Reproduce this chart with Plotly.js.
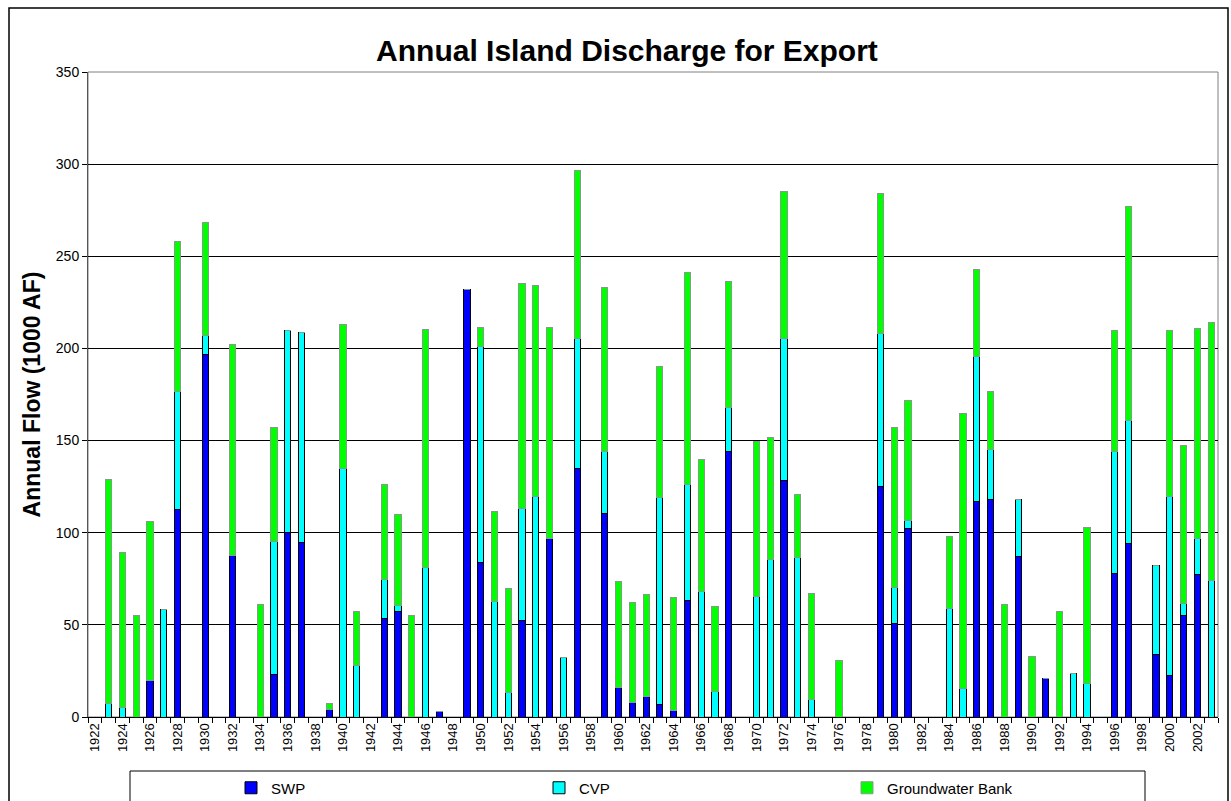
<!DOCTYPE html>
<html>
<head>
<meta charset="utf-8">
<script src="https://cdn.plot.ly/plotly-3.0.1.min.js"></script>
<style>
  html, body { margin: 0; padding: 0; background: #ffffff; }
  #chart { width: 1231px; height: 801px; }
</style>
</head>
<body>
<div id="chart"></div>
<script>
// ---- Data (values in 1000 AF) ----
const years = [];
for (let y = 1922; y <= 2003; y++) years.push(y);

const swp = [
  0, 0, 0, 0, 20, 0, 112.8, 0, 196.8, 0,            // 1922-1931
  87.5, 0, 0, 23.1, 100, 94.9, 0, 3.9, 0, 0,        // 1932-1941
  0, 53.2, 57.4, 0, 0, 3, 0, 232, 83.8, 0,          // 1942-1951
  0, 52.1, 0, 96.8, 0, 134.7, 0, 110.4, 16.2, 8.1,  // 1952-1961
  11.1, 6.7, 3.5, 63, 0, 0, 144, 0, 0, 0,           // 1962-1971
  128.5, 0, 0, 0, 0, 0, 0, 125, 50.5, 102.5,        // 1972-1981
  0, 0, 0, 0, 116.9, 118, 0, 87.3, 0, 21,           // 1982-1991
  0, 0, 0, 0, 78, 93.9, 0, 33.9, 22.7, 54.9,        // 1992-2001
  77.1, 0                                           // 2002-2003
];

const cvp = [
  0, 7.4, 5.4, 0, 0, 58.5, 63.8, 0, 10.4, 0,        // 1922-1931
  0, 0, 0, 72.3, 109.7, 113.9, 0, 0, 135, 28.2,     // 1932-1941
  0, 21.3, 3.2, 0, 81, 0, 0, 0, 117.2, 62.5,        // 1942-1951
  13.2, 61.3, 119.9, 0, 32.4, 70.6, 0, 33.6, 0, 0,  // 1952-1961
  0, 112.5, 0, 63.2, 68.3, 13.9, 23.8, 0, 65.5, 85.6, // 1962-1971
  76.8, 86.6, 9.3, 0, 0, 0, 0, 83.1, 19.6, 4,       // 1972-1981
  0, 0, 59, 15.5, 78.7, 27.4, 0, 30.5, 0, 0,        // 1982-1991
  0, 23.6, 18.3, 0, 66.2, 67.1, 0, 48.1, 97.2, 6.5, // 1992-2001
  19.8, 74                                          // 2002-2003
];

const gwBank = [
  0, 121.6, 83.6, 55, 86.3, 0, 81.5, 0, 61.3, 0,    // 1922-1931
  114.4, 0, 61.3, 61.5, 0, 0, 0, 3.5, 78, 29,       // 1932-1941
  0, 51.7, 49.4, 55.1, 129.2, 0, 0, 0, 10.1, 49.1,  // 1942-1951
  56.7, 121.6, 114.1, 114.3, 0, 91.5, 0, 89.3, 57.4, 53.9, // 1952-1961
  55.6, 71.1, 61.3, 115, 71.7, 46.3, 68.3, 0, 83.8, 66.3,  // 1962-1971
  79.9, 34.4, 57.8, 0, 30.8, 0, 0, 76.2, 86.9, 65.5,       // 1972-1981
  0, 0, 38.7, 149.1, 47.5, 31.5, 61.3, 0, 32.9, 0,         // 1982-1991
  57.4, 0, 84.7, 0, 65.8, 115.8, 0, 0, 90, 85.7,           // 1992-2001
  114, 140                                                 // 2002-2003
];

const tickYears = [];
for (let y = 1922; y <= 2002; y += 2) tickYears.push(y);
const tickLabels = tickYears.map(String);

const seriesNames = ['SWP', 'CVP', 'Groundwater Bank'];
const seriesColors = ['#0000FF', '#00FFFF', '#00FF00'];
const seriesLines = ['#000000', '#000000', '#8a9a8a'];
const seriesValues = [swp, cvp, gwBank];

// ---- Plot ----
const FONT = 'Arial, "Liberation Sans", sans-serif';

const traces = seriesValues.map((vals, i) => ({
  type: 'bar',
  name: seriesNames[i],
  x: years,
  y: vals,
  width: 0.45,
  marker: { color: seriesColors[i], line: { color: seriesLines[i], width: 1 } },
  hoverinfo: 'x+y+name'
}));

// pixel helpers for paper coordinates (plot area: x 88..1218, y 72..717)
const L = 88, T = 72, PW = 1130, PH = 645;
const px = v => (v - L) / PW;
const py = v => 1 - (v - T) / PH;

const layout = {
  width: 1231,
  height: 801,
  margin: { l: L, r: 1231 - L - PW, t: T, b: 801 - T - PH, pad: 0, autoexpand: false },
  paper_bgcolor: '#ffffff',
  plot_bgcolor: '#ffffff',
  font: { family: FONT, color: '#000000', size: 14 },
  barmode: 'stack',
  bargap: 0,
  title: {
    text: 'Annual Island Discharge for Export',
    font: { family: FONT, size: 30, weight: 700, color: '#000000' },
    xref: 'paper', x: px(627), xanchor: 'center',
    yref: 'container', y: 1 - 50 / 801, yanchor: 'middle'
  },
  xaxis: {
    range: [1921.5, 2003.5],
    tickmode: 'array',
    tickvals: tickYears,
    ticktext: tickLabels,
    tickangle: -90,
    ticks: '',
    tickfont: { family: FONT, size: 13, color: '#000000' },
    showgrid: false,
    showline: true,
    linecolor: '#000000',
    linewidth: 1,
    mirror: false,
    zeroline: false,
    automargin: false,
    minor: { tick0: 1921.5, dtick: 1, ticks: 'outside', ticklen: 5, tickcolor: '#000000', showgrid: false }
  },
  yaxis: {
    range: [0, 350],
    tickmode: 'linear',
    tick0: 0,
    dtick: 50,
    ticks: 'outside',
    ticklen: 5,
    tickcolor: '#000000',
    tickfont: { family: FONT, size: 14, color: '#000000' },
    showgrid: true,
    gridcolor: '#000000',
    gridwidth: 1,
    showline: true,
    linecolor: '#555555',
    linewidth: 1,
    zeroline: false,
    automargin: false,
    title: {
      text: 'Annual Flow (1000 AF)',
      font: { family: FONT, size: 23, weight: 700, color: '#000000' },
      standoff: 8
    }
  },
  showlegend: true,
  legend: {
    orientation: 'h',
    x: px(231), xanchor: 'left',
    yref: 'container',
    y: 1 - 788 / 801, yanchor: 'middle',
    entrywidth: 263,
    entrywidthmode: 'pixels',
    traceorder: 'normal',
    font: { family: FONT, size: 15, color: '#000000' },
    bgcolor: 'rgba(0,0,0,0)',
    borderwidth: 0
  },
  shapes: [
    // plot area frame (top / right in grey)
    { type: 'rect', xref: 'paper', yref: 'paper', x0: 0, x1: 1, y0: 0, y1: 1,
      line: { color: '#808080', width: 1 }, fillcolor: 'rgba(0,0,0,0)', layer: 'below' },
    // outer chart border
    { type: 'rect', xref: 'paper', yref: 'paper', x0: px(9), x1: px(1228), y0: py(830), y1: py(8),
      line: { color: '#000000', width: 1.5 }, fillcolor: 'rgba(0,0,0,0)' },
    // legend frame
    { type: 'rect', xref: 'paper', yref: 'paper', x0: px(130), x1: px(1145), y0: py(830), y1: py(771),
      line: { color: '#000000', width: 1 }, fillcolor: 'rgba(0,0,0,0)' }
  ]
};

Plotly.newPlot('chart', traces, layout, { displayModeBar: false, staticPlot: true });
</script>
</body>
</html>
